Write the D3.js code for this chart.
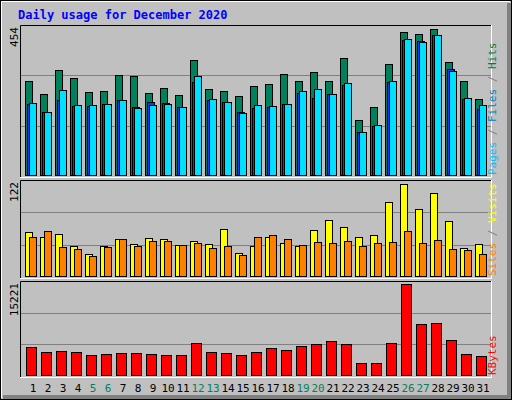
<!DOCTYPE html>
<html><head><meta charset="utf-8">
<script src="https://cdn.jsdelivr.net/npm/d3@7"></script>
<style>body{margin:0;background:#fff}svg{display:block}</style>
</head><body>
<script>
const days = d3.range(1,32);
const weekend = [5,6,12,13,19,20,26,27];
const hits  = [293,253,327,302,259,262,312,309,256,271,250,358,268,262,247,278,284,315,293,321,293,364,172,213,346,445,439,454,352,293,237];
const files = [222,197,234,216,216,222,234,213,228,225,213,290,234,228,197,209,213,222,256,240,253,281,135,154,290,420,417,436,330,237,206];
const pages = [225,197,265,219,219,222,234,209,219,222,213,309,237,228,194,219,216,222,262,268,253,287,135,157,293,423,414,436,324,240,219];
const visits= [59,53,57,41,30,41,50,43,51,50,42,47,43,63,31,41,53,45,41,62,75,66,53,55,99,122,89,110,74,38,43];
const sites = [53,61,39,37,28,39,50,41,47,47,42,45,38,41,29,53,55,50,42,46,45,47,41,45,46,61,45,49,37,35,30];
const kbytes= [4888,4055,4222,4055,3555,3722,3889,3889,3722,3555,3555,5555,4055,3889,3555,4055,4722,4388,5055,5388,5888,5388,2222,2222,5555,15221,8555,8721,6055,3722,3389];

const W=512,H=400;
const svg=d3.select("body").append("svg").attr("width",W).attr("height",H);
svg.append("rect").attr("width",W).attr("height",H).attr("fill","#c0c0c0");
// 3D frame
svg.append("rect").attr("x",0.5).attr("y",0.5).attr("width",W-1).attr("height",H-1).attr("fill","none").attr("stroke","#000");
svg.append("path").attr("d",`M1.5,${H-2}V1.5H${W-2}`).attr("fill","none").attr("stroke","#fff");
svg.append("path").attr("d",`M${W-3},3V${H-3}H3`).attr("fill","none").attr("stroke","#808080").attr("stroke-width",4);

svg.append("text").attr("x",18).attr("y",19).text("Daily usage for December 2020")
 .attr("font-family","DejaVu Sans Mono").attr("font-weight","bold").attr("font-size",12).attr("fill","#0000ff");

const x=d3.scaleLinear().domain([1,31]).range([25,475]);
const mono="DejaVu Sans Mono";

function panel(y0,y1,max,topY,base,leftLabel,rightParts){
  svg.append("rect").attr("x",20).attr("y",y0).attr("width",471).attr("height",y1-y0).attr("fill","#c0c0c0");
  svg.append("path").attr("d",`M20.5,${y1}V${y0+0.5}H491`).attr("fill","none").attr("stroke","#000");
  svg.append("path").attr("d",`M491.5,${y0}V${y1+0.5}H20`).attr("fill","none").attr("stroke","#fff");
  const y=d3.scaleLinear().domain([0,max]).range([base,topY]);
  const g=(base-(y0))/3;
  [1,2].forEach(k=>svg.append("line").attr("x1",21).attr("x2",491).attr("y1",Math.round(base-k*g)+0.5).attr("y2",Math.round(base-k*g)+0.5).attr("stroke","#808080"));
  svg.append("text").attr("transform",`translate(18,${y0+2}) rotate(-90)`).attr("text-anchor","end")
    .attr("font-family",mono).attr("font-size",11).attr("fill","#000").text(leftLabel);
  const t=svg.append("text").attr("transform",`translate(496,${y1-2}) rotate(-90)`)
    .attr("font-family",mono).attr("font-size",11);
  rightParts.forEach(p=>t.append("tspan").attr("fill",p[1]).text(p[0]));
  return y;
}
function bars(data,y,off,w,color){
  svg.append("g").selectAll("rect").data(data).join("rect")
   .attr("x",(d,i)=>x(days[i])+off+0.5).attr("y",d=>Math.round(y(d))+0.5)
   .attr("width",w).attr("height",d=>y(0)-Math.round(y(d))-1)
   .attr("fill",color).attr("stroke","#000");
}
const y1=panel(25,177,454,29.3,176,"454",[["Pages","#00c0ff"],[" / ","#808080"],["Files","#0080c0"],[" / ","#808080"],["Hits","#008040"]]);
bars(hits,y1,0,7,"#00805c");
bars(files,y1,2,7,"#0040ff");
bars(pages,y1,4,7,"#00e0ff");

const y2=panel(180,278,122,184.3,277,"122",[["Sites","#ff8000"],[" / ","#808080"],["Visits","#ffff00"]]);
bars(visits,y2,0,7,"#ffff00");
bars(sites,y2,4,7,"#ff8000");

const y3=panel(281,377,15221,284.3,376,"15221",[["KBytes","#ff0000"]]);
bars(kbytes,y3,1,10,"#ff0000");

svg.append("g").selectAll("text").data(days).join("text")
 .attr("x",d=>x(d)+8).attr("y",392).attr("text-anchor","middle")
 .attr("font-family",mono).attr("font-size",11)
 .attr("fill",d=>weekend.includes(d)?"#00805c":"#000").text(d=>d);
</script>
</body></html>
